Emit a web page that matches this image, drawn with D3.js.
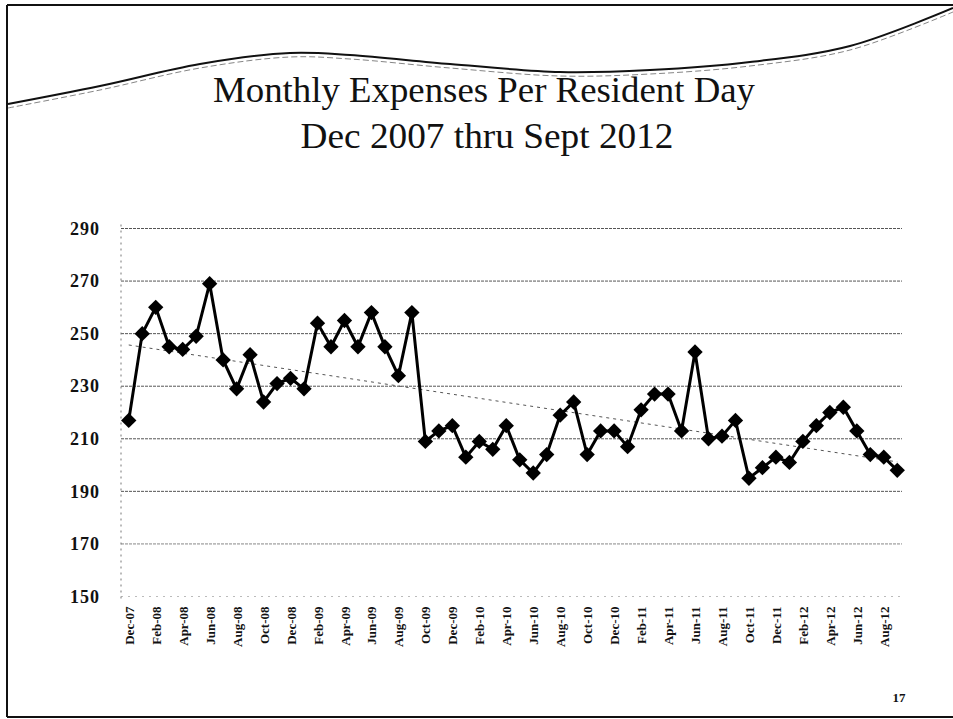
<!DOCTYPE html>
<html>
<head>
<meta charset="utf-8">
<script src="https://cdn.jsdelivr.net/npm/d3@7"></script>
<style>
  body { margin: 0; background: #fff; }
  svg { display: block; }
  text { font-family: "Liberation Serif", "DejaVu Serif", serif; fill: #111; }
</style>
</head>
<body>
<svg id="chart" width="953" height="719"></svg>
<script>
// months Dec-07 .. Sep-12
const months = [
  "Dec-07",
  "Jan-08","Feb-08","Mar-08","Apr-08","May-08","Jun-08","Jul-08","Aug-08","Sep-08","Oct-08","Nov-08","Dec-08",
  "Jan-09","Feb-09","Mar-09","Apr-09","May-09","Jun-09","Jul-09","Aug-09","Sep-09","Oct-09","Nov-09","Dec-09",
  "Jan-10","Feb-10","Mar-10","Apr-10","May-10","Jun-10","Jul-10","Aug-10","Sep-10","Oct-10","Nov-10","Dec-10",
  "Jan-11","Feb-11","Mar-11","Apr-11","May-11","Jun-11","Jul-11","Aug-11","Sep-11","Oct-11","Nov-11","Dec-11",
  "Jan-12","Feb-12","Mar-12","Apr-12","May-12","Jun-12","Jul-12","Aug-12","Sep-12"
];

const expenses = [
  217,
  250, 260, 245, 244, 249, 269, 240, 229, 242, 224, 231, 233,
  229, 254, 245, 255, 245, 258, 245, 234, 258, 209, 213, 215,
  203, 209, 206, 215, 202, 197, 204, 219, 224, 204, 213, 213,
  207, 221, 227, 227, 213, 243, 210, 211, 217, 195, 199, 203,
  201, 209, 215, 220, 222, 213, 204, 203, 198
];

const yTicks = [150, 170, 190, 210, 230, 250, 270, 290];
const titleLines = ["Monthly Expenses Per Resident Day", "Dec 2007 thru Sept 2012"];
const pageNumber = "17";

const svg = d3.select("#chart");
const W = +svg.attr("width"), H = +svg.attr("height");

// slide frame
const frame = svg.append("g").attr("stroke", "#111").attr("fill", "none").attr("stroke-width", 2);
frame.append("line").attr("x1", 7).attr("y1", 5).attr("x2", W).attr("y2", 5);
frame.append("line").attr("x1", 7).attr("y1", 5).attr("x2", 7).attr("y2", 717);
frame.append("line").attr("x1", 7).attr("y1", 717).attr("x2", W).attr("y2", 717);

// decorative swoosh across the top
const swoosh = [[8,104],[100,86],[200,64],[290,53],[350,55],[450,64],[560,72],[650,70],[750,62],[850,46],[953,8]];
const swooshLine = d3.line().curve(d3.curveCatmullRom);
svg.append("path").attr("d", swooshLine(swoosh))
  .attr("fill", "none").attr("stroke", "#111").attr("stroke-width", 2);
svg.append("path").attr("d", swooshLine(swoosh.map(p => [p[0], p[1] + 4])))
  .attr("fill", "none").attr("stroke", "#666").attr("stroke-width", 0.8).attr("stroke-dasharray", "6,3");

// title
svg.selectAll(".title").data(titleLines).enter().append("text")
  .attr("class", "title")
  .attr("x", (d, i) => i === 0 ? 484 : 487)
  .attr("y", (d, i) => i === 0 ? 102 : 148)
  .attr("text-anchor", "middle")
  .attr("font-size", 35)
  .attr("textLength", (d, i) => i === 0 ? 542 : 373)
  .attr("lengthAdjust", "spacingAndGlyphs")
  .text(d => d);

// scales
const x = d3.scalePoint().domain(months).range([122, 904]).padding(0.5);
const y = d3.scaleLinear().domain([150, 290]).range([596.5, 228.5]);

// gridlines
svg.append("g").selectAll("line").data(yTicks).enter().append("line")
  .attr("x1", 121).attr("x2", 902)
  .attr("y1", d => y(d)).attr("y2", d => y(d))
  .attr("stroke", d => d === 150 ? "#bbb" : (d === 170 ? "#888" : "#555"))
  .attr("stroke-width", 1)
  .attr("stroke-dasharray", d => d === 150 ? "2,5" : "3,1");

// y axis (dotted)
svg.append("line").attr("x1", 121).attr("x2", 121)
  .attr("y1", y(290) - 4).attr("y2", y(150) + 4)
  .attr("stroke", "#777").attr("stroke-dasharray", "2,4");

// y tick labels
const yAxis = d3.axisLeft(y).tickValues(yTicks).tickSize(0).tickPadding(21);
svg.append("g").attr("transform", "translate(121,0)").call(yAxis)
  .call(g => g.select(".domain").remove())
  .selectAll("text")
  .attr("font-size", 18).attr("font-weight", "bold").attr("letter-spacing", 1)
  .style("font-family", "'Liberation Serif', serif").attr("fill", "#111");

// x labels every other month
const xAxis = d3.axisBottom(x).tickValues(months.filter((m, i) => i % 2 === 0)).tickSize(0);
svg.append("g").attr("transform", "translate(0," + y(150) + ")").call(xAxis)
  .call(g => g.select(".domain").remove())
  .selectAll("text")
  .attr("transform", "rotate(-90)")
  .attr("x", -10).attr("y", 0).attr("dy", "0.35em")
  .attr("text-anchor", "end")
  .attr("font-size", 13).attr("font-weight", "bold")
  .style("font-family", "'Liberation Serif', serif").attr("fill", "#111");

// linear trend (least squares)
const n = expenses.length;
const idx = d3.range(n);
const mx = d3.mean(idx), my = d3.mean(expenses);
const slope = d3.sum(idx, i => (i - mx) * (expenses[i] - my)) / d3.sum(idx, i => (i - mx) * (i - mx));
const icpt = my - slope * mx;
svg.append("line")
  .attr("x1", x(months[0])).attr("y1", y(icpt))
  .attr("x2", x(months[n - 1])).attr("y2", y(icpt + slope * (n - 1)))
  .attr("stroke", "#555").attr("stroke-width", 1).attr("stroke-dasharray", "3,4");

// series line
const line = d3.line().x((d, i) => x(months[i])).y(d => y(d));
svg.append("path").datum(expenses).attr("d", line)
  .attr("fill", "none").attr("stroke", "#000").attr("stroke-width", 3);

// diamond markers
const diamond = d3.symbol().type(d3.symbolDiamond2).size(150);
svg.append("g").selectAll("path").data(expenses).enter().append("path")
  .attr("d", diamond)
  .attr("transform", (d, i) => "translate(" + x(months[i]) + "," + y(d) + ")")
  .attr("fill", "#000");

// page number
svg.append("text").attr("x", 899).attr("y", 702).attr("text-anchor", "middle")
  .attr("font-size", 13).attr("font-weight", "bold").text(pageNumber);
</script>
</body>
</html>
